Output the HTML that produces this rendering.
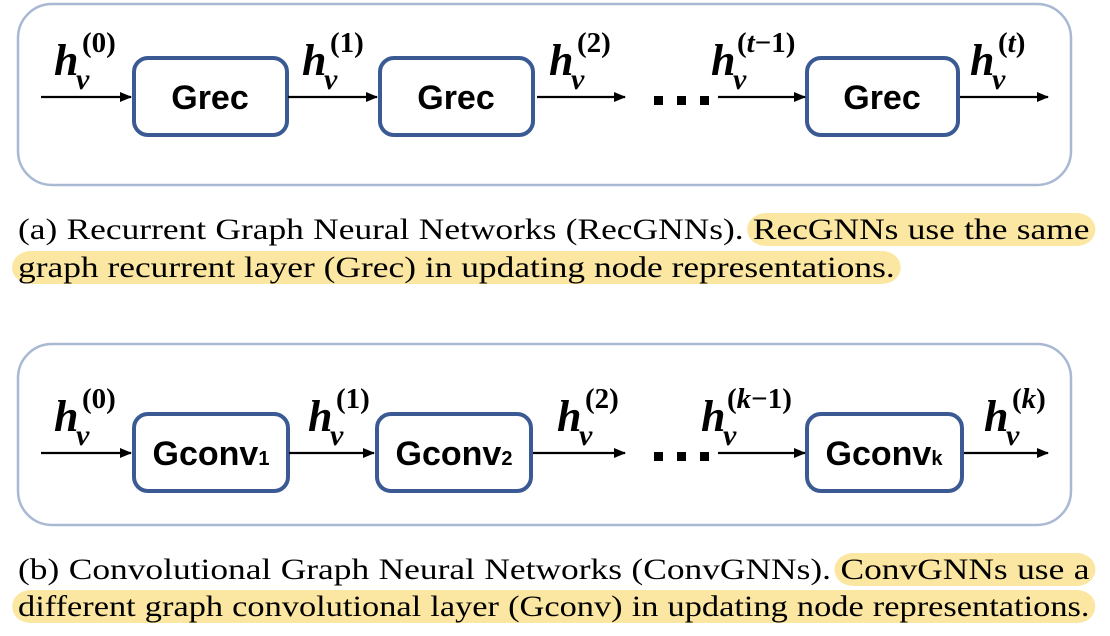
<!DOCTYPE html>
<html><head><meta charset="utf-8"><style>
html,body{margin:0;padding:0;background:#fff;width:1110px;height:636px;overflow:hidden;position:relative}
.cap{position:absolute;left:18px;width:908px;font-family:"Liberation Serif",serif;font-size:30px;line-height:38px;white-space:nowrap;color:#000;transform:scaleX(1.18);transform-origin:0 0}
.j{text-align:justify;text-align-last:justify;white-space:normal}
.hl{background:#fbe7a1;border-radius:16px;padding:0 5px;margin:0 -5px}
svg{position:absolute;left:0;top:0}
</style></head><body>
<svg width="1110" height="636" viewBox="0 0 1110 636">
<defs>
<marker id="a" markerWidth="12" markerHeight="10" refX="11" refY="5" orient="auto" markerUnits="userSpaceOnUse"><path d="M0,0 L12,5 L0,10 z" fill="#000"/></marker>
</defs>
<g fill="none" stroke="#a9b8d3" stroke-width="2.5">
<rect x="18" y="4" width="1053" height="181" rx="34"/>
<rect x="18" y="344" width="1053" height="181" rx="34"/>
</g>
<g fill="#fff" stroke="#3b5a94" stroke-width="4">
<rect x="134" y="58" width="153" height="77" rx="14"/>
<rect x="380" y="58" width="153" height="77" rx="14"/>
<rect x="807" y="58" width="151" height="77" rx="14"/>
<rect x="134" y="414" width="154" height="77" rx="14"/>
<rect x="377" y="414" width="154" height="77" rx="14"/>
<rect x="807" y="414" width="155" height="77" rx="14"/>
</g>
<g stroke="#000" stroke-width="2.2" marker-end="url(#a)">
<line x1="41" y1="97" x2="131" y2="97"/>
<line x1="288" y1="97" x2="377" y2="97"/>
<line x1="537" y1="97" x2="625" y2="97"/>
<line x1="718" y1="97" x2="805" y2="97"/>
<line x1="960" y1="97" x2="1048" y2="97"/>
<line x1="41" y1="453" x2="131" y2="453"/>
<line x1="289" y1="453" x2="374" y2="453"/>
<line x1="533" y1="453" x2="625" y2="453"/>
<line x1="718" y1="453" x2="805" y2="453"/>
<line x1="964" y1="453" x2="1048" y2="453"/>
</g>
<g fill="#000">
<rect x="654" y="96" width="9" height="9"/><rect x="677" y="96" width="9" height="9"/><rect x="700" y="96" width="9" height="9"/>
<rect x="654" y="452" width="9" height="9"/><rect x="677" y="452" width="9" height="9"/><rect x="700" y="452" width="9" height="9"/>
</g>
<g font-family="Liberation Sans,sans-serif" font-weight="bold" font-size="34" text-anchor="middle">
<text x="210" y="109">Grec</text>
<text x="456" y="109">Grec</text>
<text x="882" y="109">Grec</text>
<text x="211" y="465">Gconv<tspan font-size="20">1</tspan></text>
<text x="454" y="465">Gconv<tspan font-size="20">2</tspan></text>
<text x="884" y="465">Gconv<tspan font-size="20">k</tspan></text>
</g>
<g font-family="Liberation Serif,serif" font-weight="bold" fill="#000">
<g font-size="44" font-style="italic">
<text x="54" y="75">h</text><text x="302" y="75">h</text><text x="549" y="75">h</text><text x="711" y="75">h</text><text x="970" y="75">h</text>
<text x="54" y="431">h</text><text x="308" y="431">h</text><text x="557" y="431">h</text><text x="701" y="431">h</text><text x="984" y="431">h</text>
</g>
<g font-size="30" font-style="italic">
<text x="76" y="89">v</text><text x="324" y="89">v</text><text x="571" y="89">v</text><text x="733" y="89">v</text><text x="992" y="89">v</text>
<text x="76" y="445">v</text><text x="330" y="445">v</text><text x="579" y="445">v</text><text x="723" y="445">v</text><text x="1006" y="445">v</text>
</g>
<g font-size="29">
<text x="82" y="52">(0)</text><text x="330" y="52">(1)</text><text x="577" y="52">(2)</text><text x="737" y="52">(<tspan font-style="italic">t</tspan>−1)</text><text x="998" y="52">(<tspan font-style="italic">t</tspan>)</text>
<text x="82" y="408">(0)</text><text x="336" y="408">(1)</text><text x="585" y="408">(2)</text><text x="727" y="408">(<tspan font-style="italic">k</tspan>−1)</text><text x="1012" y="408">(<tspan font-style="italic">k</tspan>)</text>
</g>
</g>
</svg>
<div class="cap j" style="top:211px">(a) Recurrent Graph Neural Networks (RecGNNs). <span class="hl">RecGNNs use the same</span></div>
<div class="cap" style="top:249px"><span class="hl">graph recurrent layer (Grec) in updating node representations.</span></div>
<div class="cap j" style="top:551px">(b) Convolutional Graph Neural Networks (ConvGNNs). <span class="hl">ConvGNNs use a</span></div>
<div class="cap j" style="top:588px;width:935px;transform:scaleX(1.146)"><span class="hl">different graph convolutional layer (Gconv) in updating node representations.</span></div>
</body></html>
